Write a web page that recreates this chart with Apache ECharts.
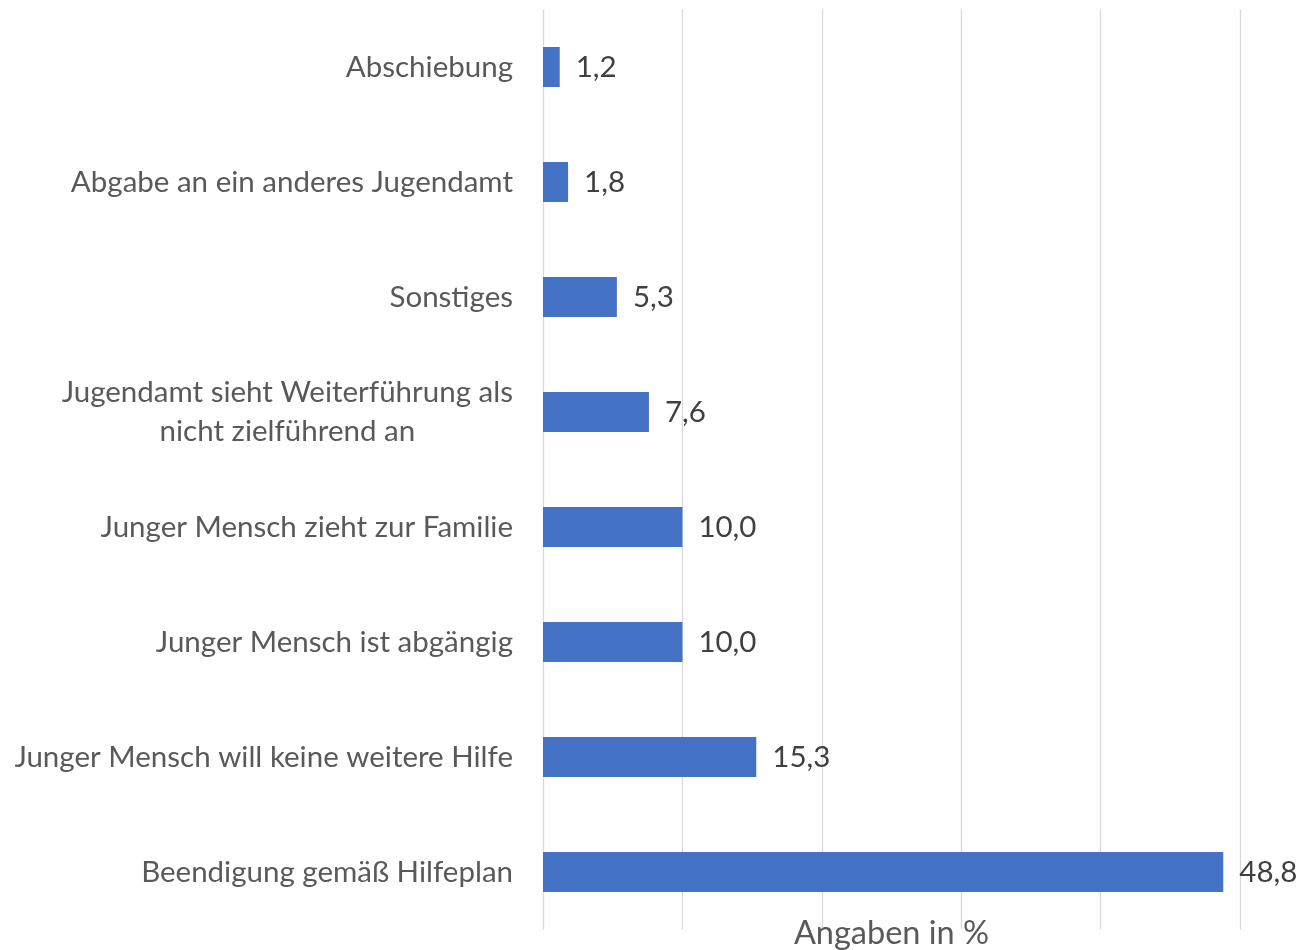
<!DOCTYPE html>
<html>
<head>
<meta charset="utf-8">
<script src="https://cdn.jsdelivr.net/npm/echarts@6/dist/echarts.min.js"></script>
<style>
  html, body { margin: 0; padding: 0; background: #fff; }
  #chart { width: 1310px; height: 950px; }
</style>
</head>
<body>
<div id="chart"></div>
<script>
// categories, top to bottom
const categories = [
    'Abschiebung',
    'Abgabe an ein anderes Jugendamt',
    'Sonstiges',
    'Jugendamt sieht Weiterführung als\nnicht zielführend an',
    'Junger Mensch zieht zur Familie',
    'Junger Mensch ist abgängig',
    'Junger Mensch will keine weitere Hilfe',
    'Beendigung gemäß Hilfeplan'
];
const values = [1.2, 1.8, 5.3, 7.6, 10.0, 10.0, 15.3, 48.8];
const axisTitle = 'Angaben in %';

const FONT = 'Lato, "Noto Sans", sans-serif';

const chart = echarts.init(document.getElementById('chart'));

chart.setOption({
    animation: false,
    grid: {
        left: 543, right: 70, top: 9.5, bottom: 20.5,
        containLabel: false,
        outerBoundsMode: 'none'
    },
    xAxis: {
        type: 'value',
        min: 0,
        max: 50,
        interval: 10,
        axisLabel: { show: false },
        axisTick: { show: false },
        axisLine: { show: false },
        splitLine: { lineStyle: { color: '#D9D9D9', width: 1.3 } },
        name: axisTitle,
        nameLocation: 'middle',
        nameGap: -12,
        nameTextStyle: {
            fontFamily: FONT, fontSize: 32.5, color: '#595959',
            verticalAlign: 'top'
        }
    },
    yAxis: {
        type: 'category',
        inverse: true,
        data: categories,
        axisLine: { show: false },
        axisTick: { show: false },
        axisLabel: {
            margin: 30,
            formatter: v => '{c|' + v.split('\n').join('}\n{c|') + '}',
            rich: {
                c: {
                    align: 'center',
                    fontFamily: FONT,
                    fontSize: 29.5,
                    lineHeight: 39,
                    color: '#595959'
                }
            }
        }
    },
    series: [{
        type: 'bar',
        data: values,
        barWidth: 40,
        itemStyle: { color: '#4472C4' },
        label: {
            show: true,
            position: 'right',
            distance: 16,
            fontFamily: FONT,
            fontSize: 29.5,
            color: '#404040',
            formatter: p => p.value.toFixed(1).replace('.', ',')
        }
    }]
});
</script>
</body>
</html>
